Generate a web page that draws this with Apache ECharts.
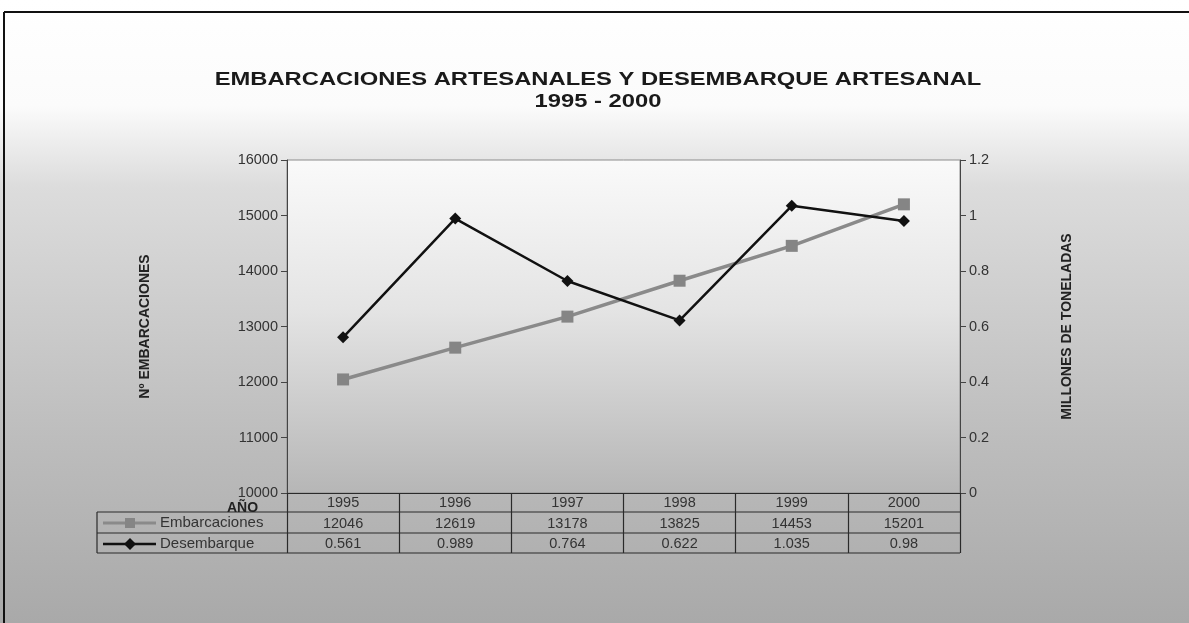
<!DOCTYPE html>
<html>
<head>
<meta charset="utf-8">
<script src="https://cdn.jsdelivr.net/npm/echarts@6/dist/echarts.min.js"></script>
<style>
  html, body { margin: 0; padding: 0; background: #fff; }
  #main { width: 1189px; height: 623px; }
</style>
</head>
<body>
<div id="main"></div>
<script>
const years = ['1995', '1996', '1997', '1998', '1999', '2000'];
const embarcaciones = [12046, 12619, 13178, 13825, 14453, 15201];
const desembarque = [0.561, 0.989, 0.764, 0.622, 1.035, 0.98];
const leftTicks = [10000, 16000, 1000];
const rightTicks = [0, 1.2, 0.2];
const titleLines = ['EMBARCACIONES ARTESANALES Y DESEMBARQUE ARTESANAL', '1995 - 2000'];

const chart = echarts.init(document.getElementById('main'));

const font = '"Liberation Sans", Arial, sans-serif';
const tableLeft = 97, gridLeft = 287, gridRight = 960;
const rowLines = [512, 533, 553];

// lineas horizontales de la tabla
const tableLines = rowLines.map(y => ({
  type: 'line',
  shape: { x1: tableLeft, y1: y, x2: gridRight, y2: y },
  style: { stroke: '#2a2a2a', lineWidth: 1.2 }
}));

// titulo un poco ensanchado como en el original
const titleTexts = titleLines.map((t, i) => ({
  type: 'text',
  x: 598, y: 80 + i * 22,
  scaleX: 1.25,
  style: { text: t, font: 'bold 19px ' + font, fill: '#1a1a1a', align: 'center', verticalAlign: 'middle' }
}));

option = {
  backgroundColor: {
    type: 'linear', x: 0, y: 0, x2: 0, y2: 1,
    colorStops: [
      { offset: 0, color: '#ffffff' },
      { offset: 0.17, color: '#fbfbfb' },
      { offset: 0.3, color: '#dcdcdc' },
      { offset: 0.7, color: '#bdbdbd' },
      { offset: 1, color: '#a9a9a9' }
    ]
  },
  textStyle: { fontFamily: font },
  grid: {
    left: gridLeft, right: 1189 - gridRight, top: 160, bottom: 623 - 493,
    show: true,
    borderColor: '#8c8c8c',
    borderWidth: 1,
    backgroundColor: {
      type: 'linear', x: 0, y: 0, x2: 0, y2: 1,
      colorStops: [
        { offset: 0, color: '#fafafa' },
        { offset: 0.45, color: '#e4e4e4' },
        { offset: 1, color: '#b6b6b6' }
      ]
    }
  },
  xAxis: {
    type: 'category',
    data: years,
    boundaryGap: true,
    axisLine: { lineStyle: { color: '#2a2a2a', width: 1.2 } },
    axisTick: { show: true, length: 60, lineStyle: { color: '#2a2a2a', width: 1.2 } },
    axisLabel: {
      margin: 0,
      color: '#333',
      fontSize: 14.5,
      lineHeight: 20.5,
      formatter: (v, i) => v + '\n' + embarcaciones[i] + '\n' + desembarque[i]
    }
  },
  yAxis: [
    {
      type: 'value',
      min: leftTicks[0], max: leftTicks[1], interval: leftTicks[2],
      name: 'Nº EMBARCACIONES',
      nameLocation: 'middle',
      nameGap: 135,
      nameTextStyle: { fontSize: 14, fontWeight: 'bold', color: '#222' },
      axisLine: { show: true, lineStyle: { color: '#444' } },
      axisTick: { show: true, length: 6, lineStyle: { color: '#444' } },
      axisLabel: { color: '#333', fontSize: 14.5, margin: 9, formatter: v => String(v) },
      splitLine: { show: false }
    },
    {
      type: 'value',
      min: rightTicks[0], max: rightTicks[1], interval: rightTicks[2],
      name: 'MILLONES DE TONELADAS',
      nameLocation: 'middle',
      nameGap: 100,
      nameRotate: 90,
      nameTextStyle: { fontSize: 14, fontWeight: 'bold', color: '#222' },
      axisLine: { show: true, lineStyle: { color: '#444' } },
      axisTick: { show: true, length: 6, lineStyle: { color: '#444' } },
      axisLabel: { color: '#333', fontSize: 14.5, margin: 9 },
      splitLine: { show: false }
    }
  ],
  series: [
    {
      name: 'Embarcaciones',
      type: 'line',
      yAxisIndex: 0,
      data: embarcaciones,
      symbol: 'rect',
      symbolSize: 12,
      lineStyle: { color: '#8a8a8a', width: 3.5 },
      itemStyle: { color: '#858585' },
      z: 3
    },
    {
      name: 'Desembarque',
      type: 'line',
      yAxisIndex: 1,
      data: desembarque,
      symbol: 'diamond',
      symbolSize: 12,
      lineStyle: { color: '#111', width: 2.5 },
      itemStyle: { color: '#111' },
      z: 4
    }
  ],
  graphic: [
    // marco de la pagina escaneada
    { type: 'line', shape: { x1: 4, y1: 12, x2: 1189, y2: 12 }, style: { stroke: '#111', lineWidth: 2 } },
    { type: 'line', shape: { x1: 4, y1: 12, x2: 4, y2: 623 }, style: { stroke: '#111', lineWidth: 2 } },
    ...titleTexts,
    ...tableLines,
    { type: 'line', shape: { x1: tableLeft, y1: 512, x2: tableLeft, y2: 553 }, style: { stroke: '#2a2a2a', lineWidth: 1.2 } },
    { type: 'text', left: 227, top: 501, style: { text: 'AÑO', font: 'bold 14px ' + font, fill: '#222' } },
    // leyenda dentro de la tabla
    { type: 'line', shape: { x1: 103, y1: 523, x2: 156, y2: 523 }, style: { stroke: '#8a8a8a', lineWidth: 3 } },
    { type: 'rect', shape: { x: 125, y: 518, width: 10, height: 10 }, style: { fill: '#858585' } },
    { type: 'text', left: 160, top: 515, style: { text: 'Embarcaciones', font: '15px ' + font, fill: '#333' } },
    { type: 'line', shape: { x1: 103, y1: 544, x2: 156, y2: 544 }, style: { stroke: '#111', lineWidth: 2.5 } },
    { type: 'polygon', shape: { points: [[130, 538], [136, 544], [130, 550], [124, 544]] }, style: { fill: '#111' } },
    { type: 'text', left: 160, top: 536, style: { text: 'Desembarque', font: '15px ' + font, fill: '#333' } }
  ]
};

chart.setOption(option);
</script>
</body>
</html>
